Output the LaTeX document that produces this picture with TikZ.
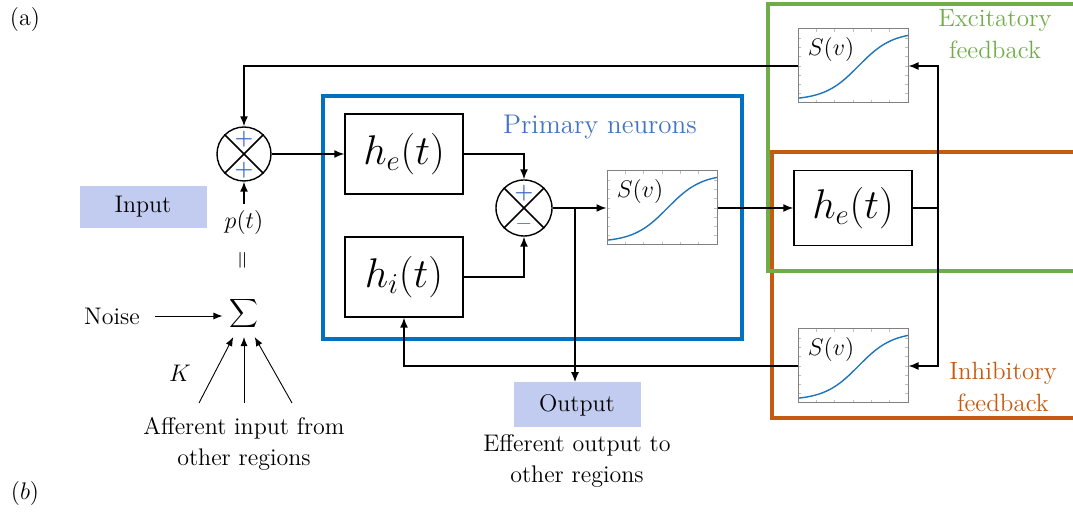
\documentclass[tikz,border=0pt]{standalone}
\usetikzlibrary{arrows.meta}
\definecolor{primblue}{RGB}{0,112,192}
\definecolor{labblue}{RGB}{68,114,196}
\definecolor{excgreen}{RGB}{112,173,71}
\definecolor{inhorange}{RGB}{197,90,17}
\definecolor{tagfill}{RGB}{193,204,240}
\definecolor{curveblue}{RGB}{30,115,185}
\tikzset{
  conn/.style={line width=0.75pt},
  arr/.style={conn,-{Latex[length=5pt,width=4pt]}},
  thinarr/.style={line width=0.45pt,-{Latex[length=4.5pt,width=3.5pt]}},
  hbox/.style={draw,line width=0.7pt,minimum width=59pt,minimum height=40pt,font=\fontsize{20}{24}\selectfont},
  summer/.style={draw,circle,line width=0.7pt,minimum size=27pt,inner sep=0pt},
  sign/.style={text=labblue,font=\fontsize{10.5}{12}\selectfont\bfseries,inner sep=0pt},
  tag/.style={fill=tagfill,minimum width=63.5pt,minimum height=21pt},
  sigbox/.style={draw=gray,line width=0.5pt,minimum width=55pt,minimum height=37pt,
    path picture={
      \begin{scope}[x=55pt,y=37pt]
        \foreach \t in {1,...,5} {
          \draw[gray!50,line width=0.3pt] (\t/6-0.5,-0.5) -- ++(0,0.04) (\t/6-0.5,0.5) -- ++(0,-0.04);
        }
        \foreach \t in {1,...,7} {
          \draw[gray!50,line width=0.3pt] (-0.5,\t/8-0.5) -- ++(0.03,0) (0.5,\t/8-0.5) -- ++(-0.03,0);
        }
        \draw[curveblue,line width=0.7pt] plot[domain=0:1,samples=40,smooth,variable=\u] ({\u-0.5},{-0.46+0.92/(1+exp(-6.5*(\u-0.55)))});
        \node[font=\fontsize{11.5}{13}\selectfont] at (-0.2,0.22) {$S(v)$};
      \end{scope}
    }},
}
\begin{document}
\begin{tikzpicture}[x=0.5pt,y=-0.5pt,font=\fontsize{12}{15.5}\selectfont]
  \useasboundingbox (0,0) rectangle (1073,512);
  \clip (0,0) rectangle (1073,512);
  \draw[inhorange,line width=2pt] (772,152) rectangle (1090,418);
  \draw[excgreen,line width=2pt] (768,4) rectangle (1090,271);
  \draw[primblue,line width=2.2pt] (323,96) rectangle (742,339);

  \node (laba) at (25,20) {(a)};
  \node (labb) at (25,494) {$(b)$};

  \node[summer] (sumin) at (244,154) {};
  \draw[conn] (sumin.45) -- (sumin.225) (sumin.135) -- (sumin.-45);
  \node[sign] (pa) at (244,139) {+};
  \node[sign] (pb) at (244,170) {+};
  \node[tag] (input) at (143,207) {Input};
  \node (pt) at (244,223) {$p(t)$};
  \node[rotate=90] (eq) at (244,260) {$=$};
  \node[font=\fontsize{17}{20}\selectfont] (sigma) at (244,314) {$\displaystyle\sum$};
  \node (noise) at (112,316) {Noise};
  \node (kk) at (180,373) {$K$};
  \node[align=center] (aff) at (244,444) {Afferent input from\\other regions};
  \coordinate (a1) at (199,403);
  \coordinate (a2) at (244,403);
  \coordinate (a3) at (292,403);

  \node[text=labblue,font=\fontsize{13.5}{16}\selectfont] (prim) at (600,127) {Primary neurons};
  \node[hbox] (he) at (404,154) {$h_e(t)$};
  \node[hbox] (hi) at (404,277) {$h_i(t)$};
  \node[summer,minimum size=28pt] (sumc) at (524,208) {};
  \draw[conn] (sumc.45) -- (sumc.225) (sumc.135) -- (sumc.-45);
  \node[sign] (pc) at (524,193) {+};
  \node[sign] (mc) at (524,224) {$-$};
  \node[sigbox] (sigc) at (662,208) {};
  \node[tag,minimum height=22.5pt] (output) at (577,405) {Output};
  \node[align=center] (eff) at (577,461) {Efferent output to\\other regions};

  \node[hbox,minimum height=37.5pt] (her) at (853,208) {$h_e(t)$};
  \node[sigbox] (sige) at (853,66) {};
  \node[sigbox] (sigi) at (853,366) {};
  \node[text=excgreen,align=center,font=\fontsize{12.5}{16}\selectfont] (exc) at (995,34) {Excitatory\\feedback};
  \node[text=inhorange,align=center,font=\fontsize{12.5}{16}\selectfont] (inh) at (1003,387) {Inhibitory\\feedback};

  \draw[arr] (sumin.east) -- (he.west);
  \draw[arr] (he.east) -| (sumc.north);
  \draw[arr] (hi.east) -| (sumc.south);
  \draw[arr] (sumc.east) -- (sigc.west);
  \coordinate (br) at (575,208);
  \draw[arr] (br) -- (br |- output.north);
  \draw[arr] (sigc.east) -- (her.west);
  \coordinate (fb) at (938,208);
  \draw[conn] (her.east) -- (fb);
  \draw[arr] (fb) |- (sige.east);
  \draw[arr] (fb) |- (sigi.east);
  \draw[arr] (sige.west) -| (sumin.north);
  \draw[arr] (sigi.west) -| (hi.south);
  \draw[arr] (pt.north) -- (sumin.south);
  \draw[thinarr,shorten <=4pt] (noise.east) -- (noise.east -| sigma.west);
  \draw[thinarr] (a1) -- (sigma.-115);
  \draw[thinarr] (a2) -- (sigma.south);
  \draw[thinarr] (a3) -- (sigma.-65);
\end{tikzpicture}
\end{document}
